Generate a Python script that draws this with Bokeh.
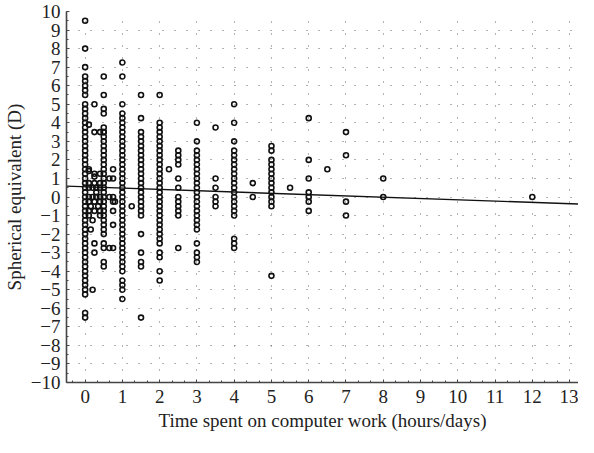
from bokeh.plotting import figure
from bokeh.models import Range1d, SingleIntervalTicker, CustomJSTickFormatter
from bokeh.embed import file_html
from bokeh.resources import INLINE

# ---- data (spherical equivalent in D per hours/day) ----
se_at_0 = [9.5, 8.0, 7.0, 6.5, 6.25, 6.0, 5.75, 5.5, 5.0, 4.75, 4.5, 4.25, 4.0, 3.75,
           3.5, 3.25, 3.0, 2.75, 2.5, 2.25, 2.0, 1.75, 1.5, 1.25, 1.0, 0.75, 0.5, 0.25,
           0.0, -0.25, -0.5, -0.75, -1.0, -1.25, -1.5, -1.75, -2.0, -2.25, -2.5, -2.75,
           -3.0, -3.25, -3.5, -3.75, -4.0, -4.25, -4.5, -4.75, -5.0, -5.25, -6.25, -6.5]
se_at_05 = [6.5, 5.5, 4.75, 4.5, 3.75, 3.5, 3.25, 3.0, 2.75, 2.5, 2.25, 2.0, 1.75, 1.5,
            1.25, 1.0, 0.75, 0.5, 0.25, 0.0, -0.25, -0.5, -0.75, -1.0, -1.25, -1.5,
            -1.75, -2.0, -2.5, -2.75, -3.5, -3.75]
se_at_1 = [7.25, 6.5, 5.0, 4.5, 4.25, 4.0, 3.75, 3.5, 3.25, 3.0, 2.75, 2.5, 2.25, 2.0,
           1.75, 1.5, 1.25, 1.0, 0.75, 0.5, 0.25, 0.0, -0.25, -0.5, -0.75, -1.0, -1.25,
           -1.5, -1.75, -2.0, -2.25, -2.5, -2.75, -3.0, -3.25, -3.5, -3.75, -4.0, -4.5,
           -4.75, -5.0, -5.5]
se_at_15 = [5.5, 4.25, 3.5, 3.25, 3.0, 2.75, 2.5, 2.25, 2.0, 1.75, 1.5, 1.25, 1.0, 0.75,
            0.5, 0.25, 0.0, -0.25, -0.5, -0.75, -1.0, -2.0, -3.0, -3.5, -3.75, -6.5]
se_at_2 = [5.5, 4.0, 3.75, 3.5, 3.25, 3.0, 2.75, 2.5, 2.25, 2.0, 1.75, 1.5, 1.25, 1.0,
           0.75, 0.5, 0.25, 0.0, -0.25, -0.5, -0.75, -1.0, -1.25, -1.5, -1.75, -2.0,
           -2.25, -2.5, -3.0, -3.25, -4.0, -4.5]
se_at_25 = [2.5, 2.25, 2.0, 1.75, 1.0, 0.5, 0.0, -0.25, -0.5, -0.75, -1.0, -2.75]
se_at_3 = [4.0, 3.0, 2.5, 2.25, 2.0, 1.75, 1.5, 1.25, 1.0, 0.75, 0.5, 0.25, 0.0, -0.25,
           -0.5, -0.75, -1.0, -1.25, -1.5, -1.75, -2.5, -3.0, -3.25, -3.5]
se_at_35 = [3.75, 1.0, 0.5, 0.0, -0.25, -0.5]
se_at_4 = [5.0, 4.0, 3.0, 2.5, 2.25, 2.0, 1.75, 1.5, 1.25, 1.0, 0.75, 0.5, 0.25, 0.0,
           -0.25, -0.5, -0.75, -1.0, -2.25, -2.5, -2.75]
se_at_45 = [0.75, 0.0]
se_at_5 = [2.75, 2.5, 2.0, 1.75, 1.5, 1.25, 1.0, 0.75, 0.5, 0.25, 0.0, -0.25, -0.5, -4.25]
se_at_55 = [0.5]
se_at_6 = [4.25, 2.0, 1.0, 0.25, 0.0, -0.25, -0.75]
se_at_65 = [1.5]
se_at_7 = [3.5, 2.25, -0.25, -1.0]
se_at_8 = [1.0, 0.0]
se_at_12 = [0.0]

columns = [(0.0, se_at_0), (0.5, se_at_05), (1.0, se_at_1), (1.5, se_at_15),
           (2.0, se_at_2), (2.5, se_at_25), (3.0, se_at_3), (3.5, se_at_35),
           (4.0, se_at_4), (4.5, se_at_45), (5.0, se_at_5), (5.5, se_at_55),
           (6.0, se_at_6), (6.5, se_at_65), (7.0, se_at_7), (8.0, se_at_8),
           (12.0, se_at_12)]

# irregular times (fractions of an hour)
odd_time = [0.25, 0.1, 0.25, 0.4, 0.5, 0.1, 0.1, 0.25, 0.25, 0.1, 0.25, 0.4, 0.1, 0.2,
            0.3, 0.4, 0.1, 0.2, 0.3, 0.4, 0.1, 0.25, 0.4, 0.15, 0.35, 0.1, 0.4, 0.25,
            0.1, 0.4, 0.15, 0.25, 0.25, 0.2, 0.65, 0.65, 0.75, 0.75, 0.75, 0.75, 0.75,
            0.75, 0.8, 0.65, 0.75, 1.25, 2.25, 0.4, 0.3, 0.2]
odd_se = [5.0, 3.9, 3.5, 3.5, 3.5, 1.5, 1.4, 1.25, 1.1, 0.75, 0.75, 0.75, 0.5, 0.5,
          0.5, 0.5, 0.0, 0.0, 0.0, 0.0, -0.25, -0.25, -0.25, -0.5, -0.5, -0.75, -0.75,
          -0.75, -1.0, -1.0, -1.75, -2.5, -3.0, -5.0, 1.0, 0.0, 1.5, 1.0, 0.0, -0.25,
          -0.75, -1.5, -0.25, -2.75, -2.75, -0.5, 1.5, 1.25, 0.25, -1.25]

fit_intercept = 0.55
fit_slope = -0.07
fit_x = [-0.5, 13.5]

# ---- build point arrays ----
xs, ys = [], []
for t, vals in columns:
    xs += [t] * len(vals)
    ys += vals
xs += odd_time
ys += odd_se
fit_y = [fit_intercept + fit_slope * v for v in fit_x]

FONT = "Liberation Serif"

p = figure(width=578, height=437, x_range=Range1d(-0.5, 13.24),
           y_range=Range1d(-10, 10), output_backend="svg", toolbar_location=None,
           min_border_left=60, min_border_right=0, min_border_top=11,
           min_border_bottom=55)
p.outline_line_color = None
p.background_fill_color = "white"

p.scatter(xs, ys, marker="circle", size=5, fill_color=None,
          line_color="#111111", line_width=1.6)
p.line(fit_x, fit_y, line_color="#111111", line_width=1.4)

p.xaxis.ticker = SingleIntervalTicker(interval=1, num_minor_ticks=3)
p.yaxis.ticker = SingleIntervalTicker(interval=1, num_minor_ticks=2)
p.yaxis.formatter = CustomJSTickFormatter(
    code="return tick < 0 ? '\u2212' + Math.abs(tick) : tick.toString();")

for ax in (p.xaxis[0], p.yaxis[0]):
    ax.axis_line_color = "#444444"
    ax.axis_line_width = 1.6
    ax.major_tick_line_color = "#444444"
    ax.minor_tick_line_color = "#444444"
    ax.major_tick_in = 3
    ax.major_tick_out = 0
    ax.minor_tick_in = 2
    ax.minor_tick_out = 0
    ax.major_label_text_font = FONT
    ax.major_label_text_font_size = "19px"
    ax.major_label_text_color = "#222222"
    ax.axis_label_text_font = FONT
    ax.axis_label_text_font_size = "19px"
    ax.axis_label_text_font_style = "normal"
    ax.axis_label_text_color = "#222222"

p.xaxis.axis_label = "Time spent on computer work (hours/days)"
p.yaxis.axis_label = "Spherical equivalent (D)"
p.xaxis.major_label_standoff = 7
p.yaxis.major_label_standoff = 6
p.xaxis.axis_label_standoff = 4
p.yaxis.axis_label_standoff = 3

p.xgrid.grid_line_color = "#666666"
p.xgrid.grid_line_dash = "1 11"
p.xgrid.grid_line_width = 1
p.ygrid.grid_line_color = "#666666"
p.ygrid.grid_line_dash = "1 11"
p.ygrid.grid_line_width = 1

open("out.html", "w").write(file_html(p, INLINE))
